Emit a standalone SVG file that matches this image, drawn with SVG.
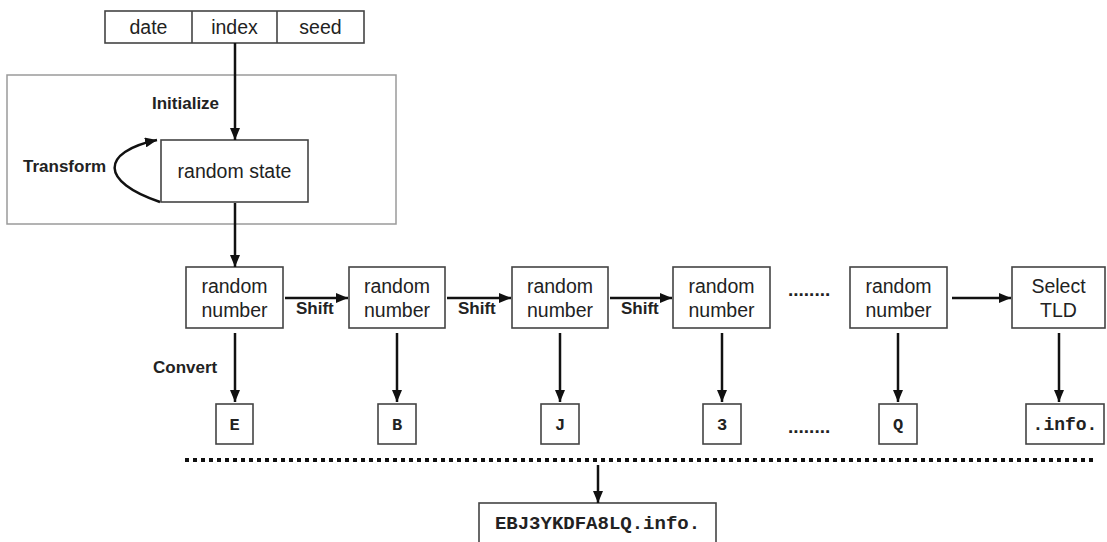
<svg xmlns="http://www.w3.org/2000/svg" width="1107" height="542" viewBox="0 0 1107 542">
<defs>
<marker id="ah" viewBox="0 0 12 10" refX="12" refY="5" markerWidth="12" markerHeight="10" markerUnits="userSpaceOnUse" orient="auto">
<path d="M0,0 L12,5 L0,10 z" fill="#111"/>
</marker>
<style>
.box{fill:#fff;stroke:#444;stroke-width:1.6}
.frame{fill:none;stroke:#9a9a9a;stroke-width:1.5}
.t{font-family:"Liberation Sans",Arial,sans-serif;font-size:19.5px;fill:#222;text-anchor:middle}
.lb{font-family:"Liberation Sans",Arial,sans-serif;font-size:17px;font-weight:bold;fill:#222}
.m{font-family:"Liberation Mono","Courier New",monospace;font-weight:bold;font-size:17px;fill:#222;text-anchor:middle}
.c{fill:none;stroke:#111;stroke-width:2.5}
.dots{font-family:"Liberation Sans",Arial,sans-serif;font-size:19px;font-weight:bold;fill:#222}
</style>
</defs>
<rect class="frame" x="7" y="75" width="389" height="149"/>
<g id="seed-input">
<rect class="box" x="105" y="11" width="259" height="32"/>
<line x1="192" y1="11" x2="192" y2="43" stroke="#444" stroke-width="1.6"/>
<line x1="277" y1="11" x2="277" y2="43" stroke="#444" stroke-width="1.6"/>
<text class="t" x="148.5" y="34">date</text>
<text class="t" x="234.5" y="34">index</text>
<text class="t" x="320.5" y="34">seed</text>
</g>
<g id="random-state">
<rect class="box" x="161" y="140" width="147" height="62"/>
<text class="t" x="234.5" y="178">random state</text>
</g>
<g id="rn1"><rect class="box" x="186" y="267" width="97" height="61"/><text class="t" x="234.5" y="293">random</text><text class="t" x="234.5" y="317">number</text></g>
<g id="rn2"><rect class="box" x="349" y="267" width="96" height="61"/><text class="t" x="397" y="293">random</text><text class="t" x="397" y="317">number</text></g>
<g id="rn3"><rect class="box" x="512" y="267" width="96" height="61"/><text class="t" x="560" y="293">random</text><text class="t" x="560" y="317">number</text></g>
<g id="rn4"><rect class="box" x="673" y="267" width="97" height="61"/><text class="t" x="721.5" y="293">random</text><text class="t" x="721.5" y="317">number</text></g>
<g id="rn5"><rect class="box" x="850" y="267" width="97" height="61"/><text class="t" x="898.5" y="293">random</text><text class="t" x="898.5" y="317">number</text></g>
<g id="tld"><rect class="box" x="1012" y="267" width="93" height="61"/><text class="t" x="1058.5" y="293">Select</text><text class="t" x="1058.5" y="317">TLD</text></g>
<g id="cE"><rect class="box" x="216" y="404" width="37" height="40"/><text class="m" x="234.5" y="430">E</text></g>
<g id="cB"><rect class="box" x="378" y="404" width="38" height="40"/><text class="m" x="397" y="430">B</text></g>
<g id="cJ"><rect class="box" x="541" y="404" width="38" height="40"/><text class="m" x="560" y="430">J</text></g>
<g id="c3"><rect class="box" x="703" y="404" width="38" height="40"/><text class="m" x="722" y="430">3</text></g>
<g id="cQ"><rect class="box" x="879" y="404" width="38" height="40"/><text class="m" x="898" y="430">Q</text></g>
<g id="cTLD"><rect class="box" x="1026" y="404" width="78" height="40"/><text class="m" x="1065" y="430" style="font-size:18px">.info.</text></g>
<g id="result"><rect class="box" x="479" y="503" width="237" height="45"/><text class="m" x="597.5" y="529" style="font-size:19px">EBJ3YKDFA8LQ.info.</text></g>
<g id="labels">
<text class="lb" x="152" y="109">Initialize</text>
<text class="lb" x="23" y="172">Transform</text>
<text class="lb" x="296" y="314">Shift</text>
<text class="lb" x="458" y="314">Shift</text>
<text class="lb" x="621" y="314">Shift</text>
<text class="lb" x="153" y="373">Convert</text>
<text class="dots" x="788" y="296">........</text>
<text class="dots" x="788" y="433">........</text>
</g>
<g id="connectors">
<line class="c" x1="235" y1="43" x2="235" y2="140" marker-end="url(#ah)"/>
<path class="c" d="M160,202 C100,182 100,152 157,140" marker-end="url(#ah)"/>
<line class="c" x1="235" y1="203" x2="235" y2="267" marker-end="url(#ah)"/>
<line class="c" x1="285" y1="298" x2="348" y2="298" marker-end="url(#ah)"/>
<line class="c" x1="447" y1="298" x2="511" y2="298" marker-end="url(#ah)"/>
<line class="c" x1="610" y1="298" x2="672" y2="298" marker-end="url(#ah)"/>
<line class="c" x1="952" y1="298" x2="1011" y2="298" marker-end="url(#ah)"/>
<line class="c" x1="235" y1="333" x2="235" y2="402" marker-end="url(#ah)"/>
<line class="c" x1="397" y1="333" x2="397" y2="402" marker-end="url(#ah)"/>
<line class="c" x1="560" y1="333" x2="560" y2="402" marker-end="url(#ah)"/>
<line class="c" x1="722" y1="333" x2="722" y2="402" marker-end="url(#ah)"/>
<line class="c" x1="898" y1="333" x2="898" y2="402" marker-end="url(#ah)"/>
<line class="c" x1="1059" y1="333" x2="1059" y2="402" marker-end="url(#ah)"/>
<line x1="185" y1="460" x2="1094" y2="460" stroke="#111" stroke-width="4" stroke-dasharray="4 4"/>
<line class="c" x1="598" y1="465" x2="598" y2="503" marker-end="url(#ah)"/>
</g>
</svg>
